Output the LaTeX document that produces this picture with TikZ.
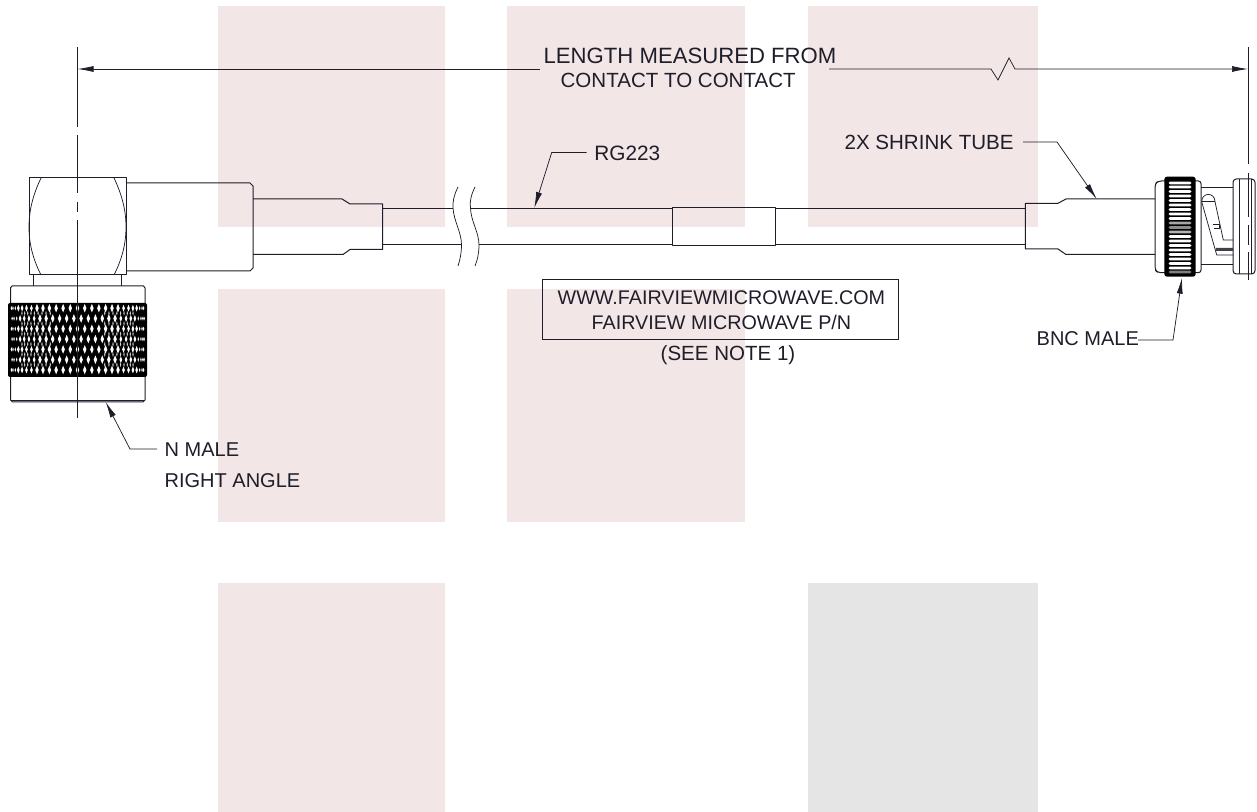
\documentclass[tikz,border=0pt]{standalone}
\usepackage{fontspec}
\setmainfont{Liberation Sans}
\usetikzlibrary{arrows.meta}
\definecolor{pinkbg}{HTML}{F3E6E7}
\definecolor{graybg}{HTML}{E5E5E5}
\definecolor{ink}{HTML}{1E1E2A}
\newcommand{\fs}[1]{\fontsize{#1}{#1}\selectfont}
\tikzset{
  x=0.75pt,y=-0.75pt,
  bgbox/.style={fill=pinkbg,draw=none},
  part/.style={draw=ink,line width=0.75pt,line join=round},
  thinp/.style={draw=ink,line width=0.55pt,line join=round},
  leader/.style={draw=ink,line width=0.55pt},
  tipped/.style={leader,-{Latex[length=16*0.75pt,width=6*0.75pt,inset=0pt]}},
  lbl/.style={inner sep=0pt,outer sep=2pt,anchor=base west,text=ink},
}
\begin{document}
\begin{tikzpicture}
\useasboundingbox (0,0) rectangle (1257,812);
% background blocks
\fill[bgbox] (218,6) rectangle (444.5,227);
\fill[bgbox] (507,6) rectangle (745,227);
\fill[bgbox] (808,6) rectangle (1038,227);
\fill[bgbox] (218,289) rectangle (444.5,522);
\fill[bgbox] (507,289) rectangle (745,522);
\fill[bgbox] (218,583) rectangle (444.5,812);
\fill[graybg] (808,583) rectangle (1038,812);

% ---------- left connector
\draw[part] (29,178) rectangle (126,275);
\draw[thinp] (41,178) .. controls (33,195) and (29,210) .. (29,227) .. controls (29,244) and (33,259) .. (41,275);
\draw[thinp] (114,178) .. controls (122,195) and (126,210) .. (126,227) .. controls (126,244) and (122,259) .. (114,275);
\draw[part] (126,183) -- (250,183) -- (253,186) -- (253,268) -- (250,271) -- (126,271);
\draw[part] (33.5,275) -- (33.5,286);
\draw[part] (121.5,275) -- (121.5,286);
\draw[part] (10.5,303) -- (10.5,288) -- (12,286) -- (143.5,286) -- (145,288) -- (145,303);
\draw[part] (10.5,377) -- (10.5,400) -- (12.5,402) -- (143,402) -- (145,400) -- (145,377);
\draw[thinp] (10.5,400) -- (145,400);
% knurl
\fill[black,rounded corners=1.5pt] (8,303) rectangle (147,377);
\foreach \r/\yy in {0/308.2,1/318.5,2/328.8,3/339.1,4/349.4,5/359.7,6/370}{
  \foreach \k in {-13,...,13}{
    \pgfmathsetmacro{\th}{(\k+0.5*mod(\r,2))*6.2}
    \pgfmathsetmacro{\xx}{77.5+67*sin(\th)}
    \pgfmathsetmacro{\cc}{cos(\th)}
    \pgfmathsetmacro{\hw}{ifthenelse(\cc>0.78,1.75,ifthenelse(\cc>0.45,1.35,0.75))}
    \pgfmathsetmacro{\hh}{ifthenelse(\cc>0.78,4.3,ifthenelse(\cc>0.45,3.4,2.2))}
    \fill[white] (\xx-\hw,\yy) -- (\xx,\yy-\hh) -- (\xx+\hw,\yy) -- (\xx,\yy+\hh) -- cycle;
  }
}
\foreach \yy in {313.3,323.6,333.9,344.2,354.5,364.8}{
  \foreach \s in {-1,1}{
    \foreach \th in {24,28,32,36,40,44,48,52,56}{
      \pgfmathsetmacro{\xx}{77.5+\s*67*sin(\th)}
      \fill[white!80!black] (\xx-0.7,\yy) -- (\xx,\yy-2.4) -- (\xx+0.7,\yy) -- (\xx,\yy+2.4) -- cycle;
    }
  }
}

% ---------- shrink tube left, cable, splice, shrink tube right
\draw[part] (253,199) -- (342,199) -- (350,204) -- (382.5,204) -- (382.5,249.5) -- (350,249.5) -- (343,254.5) -- (253,254.5);
\draw[part] (382.5,208.3) -- (453,208.3);
\draw[part] (382.5,245) -- (461.5,245);
\draw[part] (470.5,208.3) -- (672,208.3);
\draw[part] (479,245) -- (672,245);
\draw[thinp] (458,187) .. controls (454,195) and (452.5,202) .. (453,208) .. controls (454,222) and (461.5,232) .. (461.5,245) .. controls (461.5,253) and (460,260) .. (458,266);
\draw[thinp] (475,187) .. controls (471,195) and (469.5,202) .. (470.5,208) .. controls (471,222) and (479,232) .. (479,245) .. controls (479,253) and (477.5,260) .. (475,266);
\draw[part] (672.3,207.7) rectangle (775.7,245.2);
\draw[part] (775.7,208.3) -- (1025.3,208.3);
\draw[part] (775.7,245) -- (1025.3,245);
\draw[part] (1155,199) -- (1066,199) -- (1058,203.3) -- (1025.3,203.3) -- (1025.3,249) -- (1058,249) -- (1066,254.5) -- (1155,254.5);

% ---------- right connector
\draw[part,rounded corners=2.5pt] (1165,181) -- (1158,181) -- (1155,184) -- (1155,270) -- (1158,272.7) -- (1165,272.7);
\draw[part,rounded corners=2pt] (1195,181) -- (1201,181) -- (1201,272.7) -- (1195,272.7);
\fill[black,rounded corners=2pt] (1164.3,176.7) rectangle (1195.7,276.7);
\foreach \yy/\cc in {183/white,187/white,191.5/white,196/white,200.5/white,205/white,209.5/white,214/white,218.5/white,223/gray!70,227.5/gray!90,232/gray!60,236.5/white,241/white,245.5/white,250/white,254.5/white,259/white,263.5/white,268/white,272/gray}{
  \fill[\cc] (1170,\yy-1.3) -- (1190,\yy-1.3) -- (1191.5,\yy) -- (1190,\yy+1.3) -- (1170,\yy+1.3) -- (1168.5,\yy) -- cycle;
}
\draw[part] (1201,188) -- (1233,188);
\draw[part] (1201,265) -- (1233,265);
\draw[part,rounded corners=2.5pt] (1233,179) rectangle (1255,274);
\draw[thinp] (1239.5,179) -- (1239.5,274);
\draw[thinp] (1251,179) -- (1251,274);
\draw[thinp] (1201.7,201.7) .. controls (1201.7,192) and (1215,192) .. (1215,201.7);
\draw[thinp] (1201.7,201.7) -- (1215,201.7);
\draw[thinp] (1201.7,201.7) -- (1216.7,255) -- (1233,255);
\draw[thinp] (1215,201.7) -- (1223.3,240) -- (1233,240);
\fill[ink!85] (1215.5,248) -- (1233,248) -- (1233,251) -- (1216.3,251) -- cycle;
\draw[thinp] (1213,224) -- (1219,224) -- (1219,228) -- (1214,228);

% ---------- centre lines and extension lines
\draw[thinp] (77.5,47) -- (77.5,127);
\draw[thinp] (77.5,135) -- (77.5,193);
\draw[thinp] (77.5,202) -- (77.5,212);
\draw[thinp] (77.5,220) -- (77.5,418);
\draw[thinp] (1248,47) -- (1248,164);
\draw[thinp] (1248,173) -- (1248,217);
\draw[thinp] (1248,225) -- (1248,245);
\draw[thinp] (1248,252) -- (1248,280);

% ---------- labels
\node[lbl,font=\fs{16.6}] (dim1) at (541,64) {LENGTH MEASURED FROM};
\node[lbl,font=\fs{15.4}] (dim2) at (558,88) {CONTACT TO CONTACT};
\node[lbl,font=\fs{15.6}] (rg) at (591.7,161) {RG223};
\node[lbl,font=\fs{15.4}] (shrink) at (842,150) {2X SHRINK TUBE};
\node[lbl,font=\fs{15}] (bnc) at (1034,346) {BNC MALE};
\node[lbl,font=\fs{15}] (nmale) at (162,457) {N MALE};
\node[lbl,font=\fs{15}] (rangle) at (162,488) {RIGHT ANGLE};
\node[lbl,font=\fs{14.8}] (www) at (555,305) {WWW.FAIRVIEWMICROWAVE.COM};
\node[lbl,font=\fs{14.8}] (pn) at (589,330) {FAIRVIEW MICROWAVE P/N};
\node[lbl,font=\fs{15.4}] (note) at (658,360.5) {(SEE NOTE 1)};
\node[draw=ink,line width=0.75pt,minimum width=356*0.75pt,minimum height=60*0.75pt,inner sep=0pt,anchor=north west] (partbox) at (542,279) {};

% ---------- dimension line
\coordinate (dl) at (77.5,69);
\coordinate (dr) at (1248,69);
\coordinate (dgapl) at (540,69);
\coordinate (dgapr) at (829,69);
\draw[tipped] (dgapl) -- (dl);
\draw[leader,-{Latex[length=16*0.75pt,width=6*0.75pt,inset=0pt]}] (dgapr) -- (991,69) -- (998,80) -- (1009,58) -- (1015,69) -- (dr);

% ---------- leaders
\coordinate (rgtip) at (534.3,208);
\coordinate (shrinktip) at (1096.7,199);
\coordinate (bnctip) at (1182,277.7);
\coordinate (ntip) at (105.7,402);
\draw[tipped] (586.7,152.5) -- (551.7,152.5) -- (rgtip);
\draw[tipped] (1023,142) -- (1057,142) -- (shrinktip);
\draw[tipped] (1138,340) -- (1173,340) -- (bnctip);
\draw[tipped] (157,449) -- (130,449) -- (ntip);
\end{tikzpicture}
\end{document}
